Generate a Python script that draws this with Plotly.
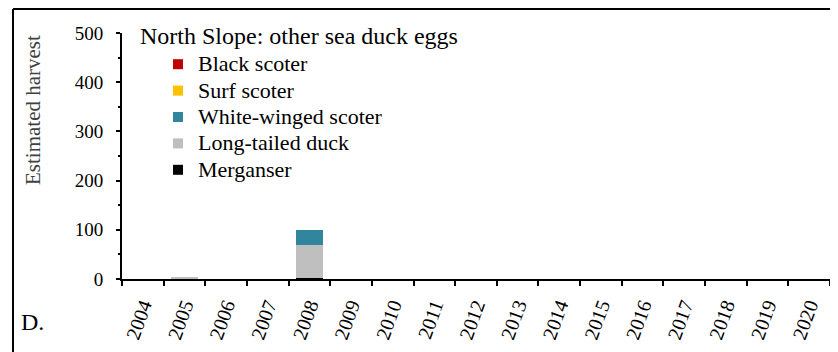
import plotly.graph_objects as go

years = [str(y) for y in range(2004, 2021)]
merganser = [0, 0, 0, 0, 3, 0, 0, 0, 0, 0, 0, 0, 0, 0, 0, 0, 0]
long_tailed = [0, 3, 0, 0, 67, 0, 0, 0, 0, 0, 0, 0, 0, 0, 0, 0, 0]
white_winged = [0, 0, 0, 0, 30, 0, 0, 0, 0, 0, 0, 0, 0, 0, 0, 0, 0]
surf_scoter = [0] * 17
black_scoter = [0] * 17

series = [
    ("Merganser", merganser, "#000000"),
    ("Long-tailed duck", long_tailed, "#BFBFBF"),
    ("White-winged scoter", white_winged, "#31859C"),
    ("Surf scoter", surf_scoter, "#FFC000"),
    ("Black scoter", black_scoter, "#C00000"),
]

FONT = "Liberation Serif, Times New Roman, serif"
W, H = 830, 344
L, R, T, B = 114, 8, 25, 73
PW, PH = W - L - R, H - T - B


def px(x):
    return (x - L) / PW


def py(y):
    return (H - B - y) / PH


fig = go.Figure()
for name, vals, col in series:
    fig.add_trace(go.Bar(x=years, y=vals, name=name, marker=dict(color=col, line=dict(width=0)),
                         showlegend=False))
for name, vals, col in series:
    fig.add_trace(go.Scatter(x=[None], y=[None], mode="markers",
                             name='<span style="font-size:22px">' + name + '</span>',
                             marker=dict(symbol="square", size=10, color=col),
                             showlegend=True))

fig.update_layout(
    template="none",
    width=W, height=H,
    margin=dict(l=L, r=R, t=T, b=B, autoexpand=False),
    barmode="stack", bargap=0.36,
    plot_bgcolor="white", paper_bgcolor="white",
    font=dict(family=FONT, color="#000000"),
    showlegend=True,
    legend=dict(
        traceorder="reversed",
        x=px(150), y=py(38), xanchor="left", yanchor="top",
        font=dict(size=18, family=FONT, color="#000000"),
        bgcolor="rgba(0,0,0,0)", borderwidth=0,
        itemwidth=30,
    ),
    xaxis=dict(
        type="category", tickangle=-70, tickfont=dict(size=20, family=FONT),
        showline=True, linecolor="black", linewidth=2, automargin=False,
        ticks="outside", tickson="boundaries", ticklen=5, tickwidth=2, tickcolor="black",
        ticklabelstandoff=5,
        showgrid=False, zeroline=False,
    ),
    yaxis=dict(
        range=[0, 500], tickvals=[0, 100, 200, 300, 400, 500], automargin=False,
        tickfont=dict(size=19, family=FONT),
        showline=True, linecolor="black", linewidth=2,
        ticks="outside", ticklen=4, tickwidth=2, tickcolor="black",
        ticklabelstandoff=9,
        minor=dict(dtick=50, ticks="outside", ticklen=2, tickwidth=2, tickcolor="black"),
        showgrid=False, zeroline=False,
    ),
    annotations=[
        dict(text="Estimated harvest", xref="paper", yref="paper", textangle=-90,
             x=px(25), y=py(102), xanchor="center", yanchor="middle",
             showarrow=False, font=dict(size=21, family=FONT, color="#404040")),
        dict(text="North Slope: other sea duck eggs", xref="paper", yref="paper",
             x=px(130), y=py(28), xanchor="left", yanchor="middle",
             showarrow=False, font=dict(size=24, family=FONT)),
        dict(text="D.", xref="paper", yref="paper",
             x=px(11), y=py(314), xanchor="left", yanchor="middle",
             showarrow=False, font=dict(size=24, family=FONT)),
    ],
    shapes=[
        dict(type="line", xref="paper", yref="paper", x0=px(5), x1=px(W + 5),
             y0=py(1), y1=py(1), line=dict(color="black", width=2)),
        dict(type="line", xref="paper", yref="paper", x0=px(5), x1=px(5),
             y0=py(1), y1=py(H + 5), line=dict(color="black", width=2)),
    ],
)

fig.write_html("out.html")
